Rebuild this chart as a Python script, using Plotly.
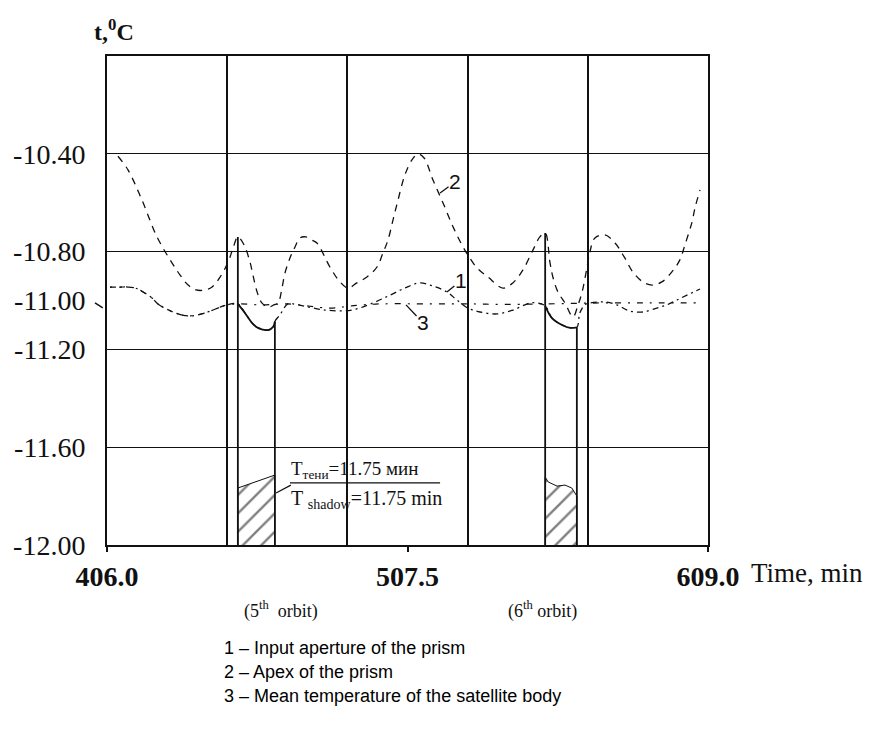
import numpy as np
import plotly.graph_objects as go

# ---------------- data (time in min, temperature in deg C) ----------------
# Curve 2 - apex of the prism (dashed)
t2 = [409.7, 413.1, 417.8, 422.9, 428.0, 430.7, 433.4, 436.1, 439.1, 441.5, 444.2, 446.9,
      448.6, 450.2, 452.3, 454.3, 455.3, 456.7, 458.3, 460.4, 462.4, 463.8, 465.1, 466.1,
      467.8, 469.5, 471.2, 473.2, 475.2, 476.9, 481.3, 484.7, 487.4, 490.4, 493.8, 497.2,
      499.2, 500.9, 502.6, 504.3, 506.6, 509.0, 511.0, 513.1, 516.1, 519.5, 522.9, 525.9,
      527.9, 531.0, 534.7, 539.7, 543.1, 546.5, 549.9, 552.2, 554.0, 555.6, 556.6, 558.3,
      560.7, 563.4, 565.1, 566.4, 568.1, 569.1, 570.8, 574.2, 577.6, 580.9, 583.6, 587.0,
      590.1, 593.4, 596.8, 599.5, 601.2, 603.6, 604.6, 606.3]
v2 = [-10.41, -10.466, -10.589, -10.740, -10.847, -10.896, -10.937, -10.957, -10.957, -10.945,
      -10.904, -10.843, -10.785, -10.740, -10.773, -10.843, -10.896, -10.965, -11.010, -11.027,
      -11.018, -11.010, -10.949, -10.888, -10.826, -10.781, -10.744, -10.740, -10.753, -10.765,
      -10.863, -10.924, -10.949, -10.928, -10.904, -10.863, -10.806, -10.753, -10.671, -10.589,
      -10.487, -10.425, -10.401, -10.417, -10.507, -10.601, -10.699, -10.773, -10.814, -10.867,
      -10.904, -10.949, -10.928, -10.875, -10.793, -10.740, -10.724, -10.843, -10.904, -10.965,
      -11.010, -11.067, -11.018, -10.969, -10.867, -10.802, -10.744, -10.732, -10.765, -10.826,
      -10.883, -10.924, -10.937, -10.924, -10.883, -10.834, -10.773, -10.679, -10.622, -10.548]

# Curve 1 - input aperture of the prism (dash-dot, solid in the shadow)
t1 = [407.0, 410.4, 413.1, 415.5, 418.2, 421.2, 423.2, 428.3, 433.4, 439.1, 444.2, 446.5,
      450.2, 452.6, 455.0, 457.0, 460.4, 462.1, 462.7, 464.4, 467.1, 470.5, 479.6, 488.7,
      495.8, 501.6, 506.6, 511.7, 516.1, 520.8, 524.2, 527.9, 532.0, 537.7, 543.1, 548.9,
      551.2, 554.0, 556.3, 559.7, 562.5, 564.7, 565.7, 567.4, 569.1, 574.2, 578.2, 582.6,
      587.0, 591.7, 595.1, 598.5, 601.9, 606.3]
v1 = [-10.945, -10.945, -10.945, -10.949, -10.965, -10.990, -11.014, -11.047, -11.063, -11.051,
      -11.027, -11.018, -11.014, -11.051, -11.092, -11.112, -11.121, -11.108, -11.085, -11.059,
      -11.014, -11.018, -11.039, -11.039, -11.010, -10.978, -10.949, -10.928, -10.941, -10.965,
      -10.998, -11.031, -11.047, -11.055, -11.039, -11.010, -11.010, -11.022, -11.072, -11.100,
      -11.112, -11.110, -11.051, -11.018, -11.010, -11.006, -11.018, -11.043, -11.047, -11.031,
      -11.018, -10.998, -10.978, -10.953]

# Curve 3 - mean temperature of the satellite body (sparse dash-dot)
t3 = [407.0, 410.4, 413.1, 415.5, 418.2, 421.2, 423.2, 428.3, 433.4, 439.1, 444.2, 446.5,
      450.2, 458.3, 467.1, 481.3, 488.7, 498.2, 515.1, 528.6, 540.0, 553.9, 572.5, 589.4, 605.3]
v3 = [-10.945, -10.945, -10.945, -10.949, -10.965, -10.990, -11.014, -11.047, -11.063, -11.051,
      -11.027, -11.018, -11.014, -11.018, -11.014, -11.031, -11.022, -11.014, -11.014, -11.014,
      -11.016, -11.014, -11.010, -11.010, -11.010]

# Shadow periods
shadow_start = [450.2, 554.0]
shadow_end = [462.7, 564.7]
entry_top = [-10.740, -10.724]
exit_top = [-11.085, -11.110]

# Hatched shadow marks near the bottom
hatch1_t = [450.2, 450.2, 462.7, 462.7]
hatch1_v = [-12.0, -11.767, -11.714, -12.0]
hatch2_t = [554.0, 554.0, 555.0, 558.0, 560.7, 563.0, 564.7, 564.7]
hatch2_v = [-12.0, -11.722, -11.742, -11.759, -11.755, -11.767, -11.80, -12.0]

# Axes
x_tickvals = [406.0, 507.5, 609.0]
x_ticktext = ["406.0", "507.5", "609.0"]
x_grid = [446.6, 487.2, 527.8, 568.4]
y_tickvals = [-10.4, -10.8, -11.0, -11.2, -11.6, -12.0]
y_ticktext = ["-10.40", "-10.80", "-11.00", "-11.20", "-11.60", "-12.00"]
y_grid = [-10.4, -10.8, -11.2, -11.6]

# Texts
curve_labels = ["1", "2", "3"]
curve_label_t = [520.8, 518.5, 507.0]
curve_label_v = [-10.965, -10.56, -11.018]
curve_label_off = [(14, -11), (15, -11), (17, 18)]
orbit_labels = ["(5<sup>th</sup>  orbit)", "(6<sup>th</sup> orbit)"]
orbit_t = [464.8, 553.2]
legend_lines = ["1 \u2013 Input aperture of the prism",
                "2 \u2013 Apex of the prism",
                "3 \u2013 Mean temperature of the satellite body"]
shadow_text_ru = "T<sub>\u0442\u0435\u043d\u0438</sub>=11.75 \u043c\u0438\u043d"
shadow_text_en = "T <sub>shadow</sub>=11.75 min"

SERIF = "Liberation Serif"
SANS = "Liberation Sans"
INK = "#111111"

fig = go.Figure()

# hatched regions
for ht, hv in [(hatch1_t, hatch1_v), (hatch2_t, hatch2_v)]:
    fig.add_trace(go.Scatter(x=ht, y=hv, mode="lines", fill="toself",
                             fillcolor="rgba(0,0,0,0)",
                             fillpattern=dict(shape="/", fgcolor="black", bgcolor="white",
                                              size=13, solidity=0.18),
                             line=dict(color=INK, width=1), hoverinfo="skip"))

# curve 3
fig.add_trace(go.Scatter(x=t3, y=v3, mode="lines",
                         line=dict(color=INK, width=1.2, dash="2px,7px,6px,7px", shape="spline"),
                         name="3"))
# curve 2
fig.add_trace(go.Scatter(x=t2, y=v2, mode="lines",
                         line=dict(color=INK, width=1.3, dash="7px,6px", shape="spline"),
                         name="2"))
# curve 1 (dash-dot outside shadow, solid inside)
t1a = np.array(t1)
v1a = np.array(v1)
fig.add_trace(go.Scatter(x=t1a, y=v1a, mode="lines",
                         line=dict(color=INK, width=1.3, dash="6px,4px,2px,4px", shape="spline"),
                         name="1"))
for s, e in zip(shadow_start, shadow_end):
    m = (t1a >= s - 1e-9) & (t1a <= e + 1e-9)
    fig.add_trace(go.Scatter(x=t1a[m], y=v1a[m], mode="lines",
                             line=dict(color=INK, width=1.8, shape="spline"),
                             hoverinfo="skip"))

# shadow boundary lines
for s, top in zip(shadow_start, entry_top):
    fig.add_trace(go.Scatter(x=[s, s], y=[-12.0, top], mode="lines",
                             line=dict(color=INK, width=1.8), hoverinfo="skip"))
for e, top in zip(shadow_end, exit_top):
    fig.add_trace(go.Scatter(x=[e, e], y=[-12.0, top], mode="lines",
                             line=dict(color=INK, width=1.8), hoverinfo="skip"))

annotations = []
# curve number labels with pointers
for lab, lt, lv, (ax, ay) in zip(curve_labels, curve_label_t, curve_label_v, curve_label_off):
    annotations.append(dict(x=lt, y=lv, xref="x", yref="y", text=lab, showarrow=True,
                            arrowhead=0, arrowwidth=1.3, arrowcolor=INK, ax=ax, ay=ay,
                            font=dict(family=SANS, size=21, color=INK), borderpad=0))

# y-axis title
annotations.append(dict(x=0.012, y=1.053, xref="paper", yref="paper", text="<b>t,<sup>0</sup>C</b>",
                        xanchor="center", yanchor="middle",
                        showarrow=False, font=dict(family=SERIF, size=24, color=INK)))
# x-axis title
annotations.append(dict(x=1.068, y=-0.058, xref="paper", yref="paper", text="Time, min",
                        xanchor="left", yanchor="middle",
                        showarrow=False, font=dict(family=SERIF, size=27, color=INK)))
# orbit labels
for ot, otext in zip(orbit_t, orbit_labels):
    annotations.append(dict(x=ot, y=-0.133, xref="x", yref="paper", text=otext, showarrow=False,
                            xanchor="center", yanchor="middle",
                            font=dict(family=SERIF, size=18, color=INK)))
# legend lines
for i, line in enumerate(legend_lines):
    annotations.append(dict(x=0.191, y=-0.211 - 0.049 * i, xref="paper", yref="paper", text=line,
                            xanchor="left", yanchor="middle", showarrow=False,
                            font=dict(family=SANS, size=18, color="black")))
# shadow duration text
annotations.append(dict(x=467.8, y=-11.693, xref="x", yref="y", text=shadow_text_ru,
                        xanchor="left", yanchor="middle", borderpad=0,
                        showarrow=False, font=dict(family=SERIF, size=19, color=INK)))
annotations.append(dict(x=467.8, y=-11.812, xref="x", yref="y", text=shadow_text_en,
                        xanchor="left", yanchor="middle", borderpad=0,
                        showarrow=False, font=dict(family=SERIF, size=20, color=INK)))

shapes = [
    dict(type="line", xref="x", yref="y", x0=467.8, x1=518.5, y0=-11.746, y1=-11.746,
         line=dict(color=INK, width=1.2)),
    dict(type="line", xref="x", yref="y", x0=463.1, x1=468.1, y0=-11.787, y1=-11.755,
         line=dict(color=INK, width=1.2)),
    dict(type="line", xref="paper", yref="paper", x0=-0.020, x1=-0.007, y0=0.495, y1=0.485,
         line=dict(color=INK, width=1.5)),
]

fig.update_layout(
    width=873, height=735,
    margin=dict(l=107, r=165, t=56, b=190),
    paper_bgcolor="white", plot_bgcolor="white",
    showlegend=False,
    annotations=annotations,
    shapes=shapes,
    xaxis=dict(range=[406, 609], tickmode="array", tickvals=x_tickvals,
               ticktext=["<b>%s</b>" % s for s in x_ticktext],
               tickfont=dict(family=SERIF, size=28, color=INK),
               ticks="outside", ticklen=5, tickcolor=INK, tickwidth=1.5,
               showgrid=False, zeroline=False,
               showline=True, mirror=True, linecolor=INK, linewidth=2,
               minor=dict(tickmode="array", tickvals=x_grid, showgrid=True,
                          gridcolor=INK, gridwidth=1.5, ticks="")),
    yaxis=dict(range=[-12, -10], tickmode="array", tickvals=y_tickvals, ticktext=y_ticktext,
               tickfont=dict(family=SERIF, size=28, color=INK),
               ticks="", ticklabelstandoff=14,
               showgrid=False, zeroline=False,
               showline=True, mirror=True, linecolor=INK, linewidth=2,
               minor=dict(tickmode="array", tickvals=y_grid, showgrid=True,
                          gridcolor=INK, gridwidth=1.3, ticks="")),
)

fig.write_html("out.html")
